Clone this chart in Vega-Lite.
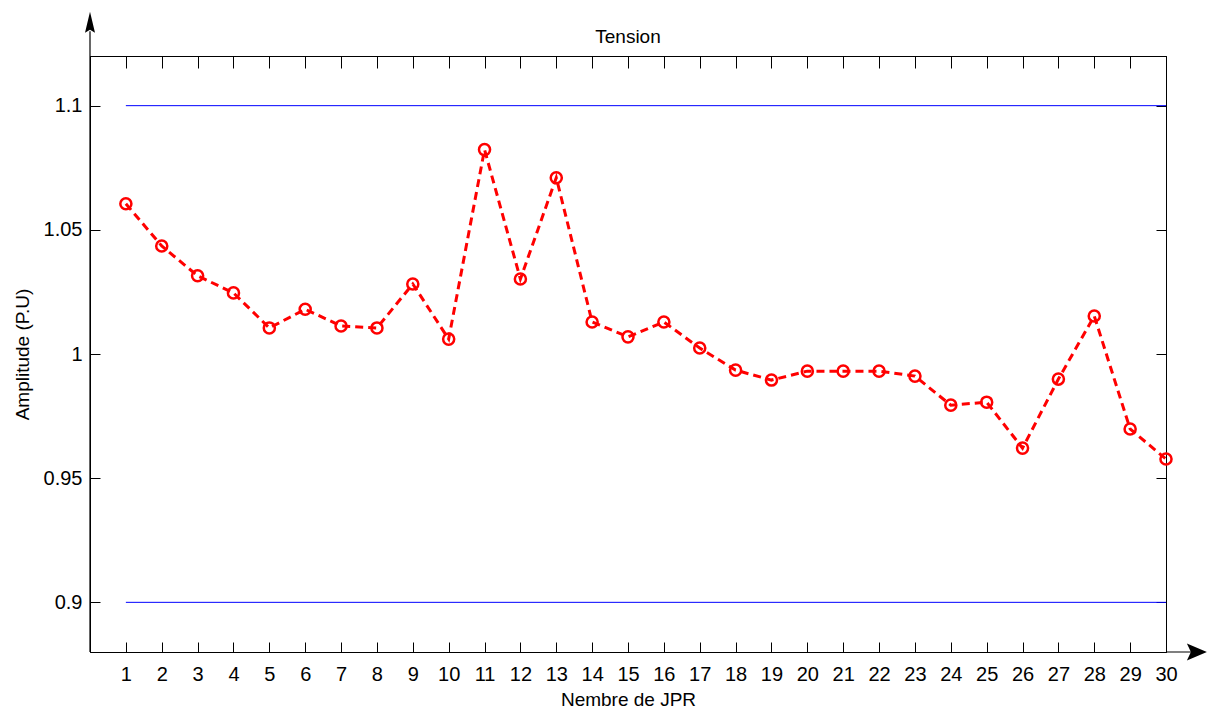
{
  "$schema": "https://vega.github.io/schema/vega-lite/v6.json",
  "width": 1076,
  "height": 596,
  "autosize": "none",
  "padding": {"left": 90, "top": 56, "right": 44, "bottom": 56},
  "background": "white",
  "config": {
    "font": "Liberation Sans",
    "view": {"stroke": "black", "strokeWidth": 1},
    "axis": {
      "grid": false,
      "domainColor": "black",
      "tickColor": "black",
      "labelColor": "black",
      "titleColor": "black",
      "labelFont": "Liberation Sans",
      "labelFontSize": 20,
      "titleFont": "Liberation Sans",
      "titleFontSize": 19,
      "titleFontWeight": "normal",
      "tickSize": -10,
      "labelFlush": false,
      "labelOverlap": false
    }
  },
  "title": {"text": "Tension", "fontSize": 19, "fontWeight": "normal", "font": "Liberation Sans", "color": "black", "baseline": "alphabetic", "offset": -50},
  "datasets": {
    "pts": [
      {"n": 1, "v": 1.0605}, {"n": 2, "v": 1.0435}, {"n": 3, "v": 1.0315}, {"n": 4, "v": 1.0246},
      {"n": 5, "v": 1.0105}, {"n": 6, "v": 1.018}, {"n": 7, "v": 1.0113}, {"n": 8, "v": 1.0105},
      {"n": 9, "v": 1.0282}, {"n": 10, "v": 1.006}, {"n": 11, "v": 1.0823}, {"n": 12, "v": 1.0302},
      {"n": 13, "v": 1.071}, {"n": 14, "v": 1.0129}, {"n": 15, "v": 1.0069}, {"n": 16, "v": 1.0129},
      {"n": 17, "v": 1.0024}, {"n": 18, "v": 0.9935}, {"n": 19, "v": 0.9895}, {"n": 20, "v": 0.9931},
      {"n": 21, "v": 0.9931}, {"n": 22, "v": 0.9931}, {"n": 23, "v": 0.9911}, {"n": 24, "v": 0.9794},
      {"n": 25, "v": 0.9806}, {"n": 26, "v": 0.9621}, {"n": 27, "v": 0.9899}, {"n": 28, "v": 1.0153},
      {"n": 29, "v": 0.9698}, {"n": 30, "v": 0.9577}
    ],
    "lim": [{"a": 1, "b": 30, "v": 1.1}, {"a": 1, "b": 30, "v": 0.9}],
    "vline": [{"x": 0, "y": 0.88, "y2": 1.13}],
    "hline": [{"x": 30, "x2": 31, "y": 0.88}],
    "heads": [{"x": 0, "y": 1.1378, "s": "up"}, {"x": 31.14, "y": 0.88, "s": "right"}]
  },
  "layer": [
    {
      "data": {"name": "lim"},
      "mark": {"type": "rule", "color": "#0000ff", "strokeWidth": 1},
      "encoding": {
        "x": {"field": "a", "type": "quantitative", "scale": {"domain": [0, 30], "nice": false, "zero": false}, "axis": null},
        "x2": {"field": "b"},
        "y": {"field": "v", "type": "quantitative", "scale": {"domain": [0.88, 1.12], "nice": false, "zero": false}, "axis": null}
      }
    },
    {
      "data": {"name": "pts"},
      "mark": {"type": "line", "color": "#ff0000", "strokeWidth": 3, "strokeDash": [8, 5]},
      "encoding": {
        "x": {"field": "n", "type": "quantitative", "scale": {"domain": [0, 30], "nice": false, "zero": false},
              "axis": {"orient": "bottom", "values": [1,2,3,4,5,6,7,8,9,10,11,12,13,14,15,16,17,18,19,20,21,22,23,24,25,26,27,28,29,30], "title": "Nembre de JPR", "labelPadding": 22.5, "titleY": 53, "titleBaseline": "alphabetic"}},
        "y": {"field": "v", "type": "quantitative", "scale": {"domain": [0.88, 1.12], "nice": false, "zero": false},
              "axis": {"orient": "left", "values": [0.9, 0.95, 1, 1.05, 1.1], "format": "~g", "title": "Amplitude (P.U)", "labelPadding": 18, "titleX": -68, "titleBaseline": "middle"}}
      }
    },
    {
      "data": {"name": "pts"},
      "mark": {"type": "point", "shape": "circle", "filled": false, "color": "#ff0000", "strokeWidth": 2.5, "size": 123, "opacity": 1},
      "encoding": {
        "x": {"field": "n", "type": "quantitative", "scale": {"domain": [0, 30], "nice": false, "zero": false},
              "axis": {"orient": "top", "values": [1,2,3,4,5,6,7,8,9,10,11,12,13,14,15,16,17,18,19,20,21,22,23,24,25,26,27,28,29,30], "labels": false, "title": null, "tickSize": -12}},
        "y": {"field": "v", "type": "quantitative", "scale": {"domain": [0.88, 1.12], "nice": false, "zero": false},
              "axis": {"orient": "right", "values": [0.9, 0.95, 1, 1.05, 1.1], "labels": false, "title": null}}
      }
    },
    {
      "data": {"name": "vline"},
      "mark": {"type": "rule", "color": "black", "strokeWidth": 1.2},
      "encoding": {
        "x": {"field": "x", "type": "quantitative", "scale": {"domain": [0, 30], "nice": false, "zero": false}, "axis": null},
        "y": {"field": "y", "type": "quantitative", "scale": {"domain": [0.88, 1.12], "nice": false, "zero": false}, "axis": null},
        "y2": {"field": "y2"}
      }
    },
    {
      "data": {"name": "hline"},
      "mark": {"type": "rule", "color": "black", "strokeWidth": 1.2},
      "encoding": {
        "x": {"field": "x", "type": "quantitative", "scale": {"domain": [0, 30], "nice": false, "zero": false}, "axis": null},
        "x2": {"field": "x2"},
        "y": {"field": "y", "type": "quantitative", "scale": {"domain": [0.88, 1.12], "nice": false, "zero": false}, "axis": null}
      }
    },
    {
      "data": {"name": "heads"},
      "mark": {"type": "point", "filled": true, "color": "black", "strokeWidth": 0, "size": 400, "opacity": 1},
      "encoding": {
        "x": {"field": "x", "type": "quantitative", "scale": {"domain": [0, 30], "nice": false, "zero": false}, "axis": null},
        "y": {"field": "y", "type": "quantitative", "scale": {"domain": [0.88, 1.12], "nice": false, "zero": false}, "axis": null},
        "shape": {"field": "s", "type": "nominal", "scale": {"domain": ["up", "right"], "range": ["M0,0L0.5,2.1L0,1.8L-0.5,2.1Z", "M0,0L-2,-0.85L-1.6,0L-2,0.85Z"]}, "legend": null}
      }
    }
  ],
  "resolve": {"axis": {"x": "independent", "y": "independent"}}
}
